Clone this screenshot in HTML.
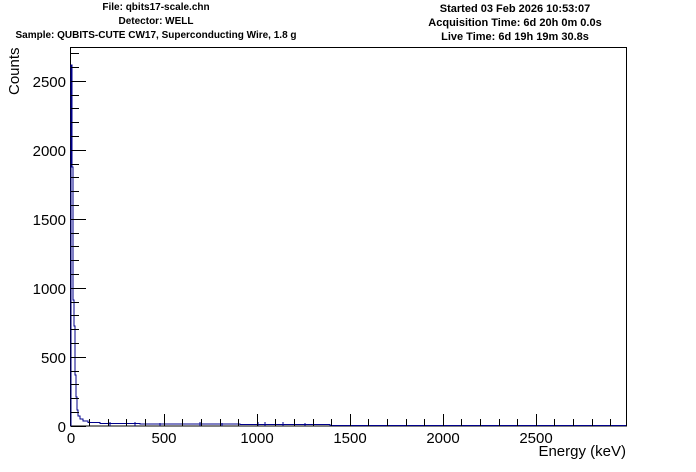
<!DOCTYPE html>
<html><head><meta charset="utf-8"><style>
html,body{margin:0;padding:0;background:#fff;}
svg{display:block;font-family:"Liberation Sans",Arial,sans-serif;}
</style></head><body>
<svg width="696" height="472" viewBox="0 0 696 472" xmlns="http://www.w3.org/2000/svg">
<rect width="696" height="472" fill="#fff"/>
<g font-size="10" font-weight="bold" text-anchor="middle" fill="#000">
<text x="156" y="10">File: qbits17-scale.chn</text>
<text x="156" y="24">Detector: WELL</text>
<text x="156" y="38">Sample: QUBITS-CUTE CW17, Superconducting Wire, 1.8 g</text>
<text x="515" y="12" font-size="11">Started 03 Feb 2026 10:53:07</text>
<text x="515" y="26" font-size="11">Acquisition Time: 6d 20h 0m 0.0s</text>
<text x="515" y="40" font-size="11">Live Time: 6d 19h 19m 30.8s</text>
</g>
<rect x="70.5" y="47.5" width="556" height="378.5" fill="none" stroke="#000" stroke-width="1"/>
<polyline fill="none" stroke="#00008b" stroke-width="1" points="71,426 71,65 72,65 72,167 73,167 73,300 74,300 74,326 75,326 75,375 76,375 76,397 77,397 77,410 78,410 78,416 80,416 80,419 83,419 83,421 88,421 88,422.5 100,422.5 100,423.5 140,423.5 140,424 240,424 240,424.5 330,424.5 330,425.5 626,425.5"/>
<g stroke="#00008b" stroke-width="1">
<line x1="110" y1="422" x2="110" y2="426"/><line x1="135" y1="422" x2="135" y2="426"/><line x1="160" y1="423" x2="160" y2="426"/><line x1="200" y1="422" x2="200" y2="426"/><line x1="222" y1="423" x2="222" y2="426"/><line x1="258" y1="422" x2="258" y2="426"/><line x1="265" y1="422" x2="265" y2="426"/><line x1="283" y1="422" x2="283" y2="426"/><line x1="305" y1="423" x2="305" y2="426"/>
</g>
<g stroke="#000" stroke-width="1">
<path d="M71,426.5H86 M71,357.5H86 M71,288.5H86 M71,219.5H86 M71,150.5H86 M71,81.5H86"/>
<path d="M71,412.5H79 M71,398.5H79 M71,384.5H79 M71,371.5H79 M71,343.5H79 M71,329.5H79 M71,315.5H79 M71,302.5H79 M71,274.5H79 M71,260.5H79 M71,246.5H79 M71,233.5H79 M71,205.5H79 M71,191.5H79 M71,177.5H79 M71,164.5H79 M71,136.5H79 M71,122.5H79 M71,108.5H79 M71,95.5H79 M71,67.5H79 M71,53.5H79"/>
<path d="M164.5,426V414 M257.5,426V414 M350.5,426V414 M443.5,426V414 M536.5,426V414"/>
<path d="M89.5,426V419 M108.5,426V419 M126.5,426V419 M145.5,426V419 M182.5,426V419 M201.5,426V419 M220.5,426V419 M238.5,426V419 M275.5,426V419 M294.5,426V419 M313.5,426V419 M331.5,426V419 M368.5,426V419 M387.5,426V419 M406.5,426V419 M424.5,426V419 M461.5,426V419 M480.5,426V419 M499.5,426V419 M517.5,426V419 M554.5,426V419 M573.5,426V419 M592.5,426V419 M610.5,426V419"/>
</g>
<g font-size="15" fill="#000">
<g text-anchor="end">
<text x="66" y="432">0</text><text x="66" y="363">500</text><text x="66" y="294">1000</text><text x="66" y="225">1500</text><text x="66" y="156">2000</text><text x="66" y="87">2500</text>
</g>
<g text-anchor="middle">
<text x="71" y="443">0</text><text x="164" y="443">500</text><text x="257" y="443">1000</text><text x="350" y="443">1500</text><text x="443" y="443">2000</text><text x="536" y="443">2500</text>
</g>
<text x="626" y="456" text-anchor="end">Energy (keV)</text>
<text transform="translate(19,95) rotate(-90)" text-anchor="start">Counts</text>
</g>
</svg>
</body></html>
